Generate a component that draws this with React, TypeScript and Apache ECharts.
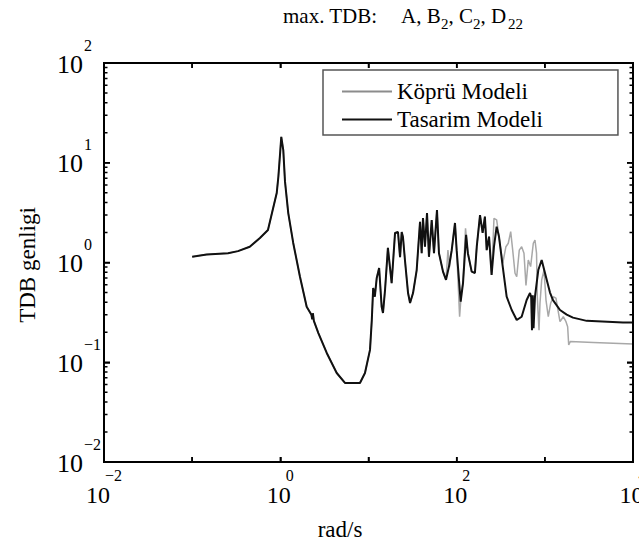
import React, { useEffect, useRef } from 'react';
import * as echarts from 'echarts';

// ---- data (rad/s, amplitude) ----
const sharedFreq = [0.1, 0.146, 0.255, 0.331, 0.45, 0.587, 0.724, 0.91, 0.95, 1.0, 1.025, 1.08, 1.13, 1.23, 1.4, 1.67, 1.99, 2.25, 2.3, 2.34, 2.4, 2.7, 3.36, 4.36, 5.41, 8.0, 9.12, 10.4, 10.9, 11.3, 11.8, 12.4, 13.2, 14.1, 14.6, 15.4, 16.6, 18.3, 20.0, 21.6, 22.8, 23.8, 24.6, 25.9, 28.1, 29.6, 32.0, 35.2, 38.4, 40.1, 41.5, 43.7, 46.1, 48.5, 52.1, 55.3, 59.8, 63.0, 70.0];
const sharedAmp = [1.14, 1.2, 1.24, 1.3, 1.44, 1.76, 2.12, 4.97, 7.24, 13.4, 18.2, 13.4, 6.46, 3.13, 1.57, 0.72, 0.36, 0.3, 0.27, 0.31, 0.26, 0.196, 0.124, 0.078, 0.062, 0.062, 0.078, 0.133, 0.265, 0.555, 0.454, 0.7, 0.88, 0.36, 0.312, 0.53, 1.4, 0.62, 1.98, 2.02, 1.13, 2.02, 1.8, 1.06, 0.494, 0.393, 0.494, 0.84, 2.56, 1.24, 2.79, 1.44, 3.13, 1.14, 2.67, 1.24, 3.36, 1.24, 0.81];

const tasarimFreq = [75.7, 81.8, 87.9, 95.7, 100, 111, 118, 128, 134, 148, 161, 169, 184, 197, 209, 219, 233, 249, 265, 284, 302, 333, 369, 421, 480, 546, 622, 679, 700, 715, 730, 745, 773, 843, 921, 1004, 1050, 1144, 1237, 1486, 1770, 2086, 2983, 7700, 10000];
const tasarimAmp = [0.67, 0.91, 1.33, 2.49, 1.33, 0.405, 0.62, 1.89, 1.24, 0.81, 0.785, 1.44, 2.99, 1.98, 2.88, 1.33, 1.82, 0.75, 1.44, 2.29, 1.82, 0.91, 0.454, 0.334, 0.265, 0.286, 0.421, 0.494, 0.45, 0.21, 0.47, 0.22, 0.454, 0.84, 1.06, 0.785, 0.67, 0.5, 0.42, 0.334, 0.3, 0.28, 0.26, 0.25, 0.25];

const kopruFreq = [75.7, 79.6, 83, 87.9, 95.7, 100, 108, 113, 118, 126, 134, 148, 161, 169, 184, 197, 209, 219, 233, 249, 265, 284, 302, 333, 362, 385, 410, 432, 459, 480, 513, 546, 580, 611, 649, 690, 740, 773, 805, 821, 859, 881, 921, 978, 1031, 1094, 1164, 1247, 1337, 1410, 1486, 1620, 1738, 1815, 1865, 1943, 3548, 10000];
const kopruAmp = [0.67, 1.33, 0.9, 1.33, 2.49, 1.33, 0.286, 0.5, 0.62, 2.2, 1.24, 0.81, 0.785, 1.44, 2.99, 1.98, 2.88, 1.33, 1.82, 0.75, 2.77, 2.67, 1.82, 0.98, 1.44, 1.56, 2.04, 1.33, 0.78, 0.72, 1.33, 1.44, 1.24, 0.59, 1.06, 0.91, 1.56, 1.68, 1.24, 0.454, 0.21, 0.39, 0.67, 0.84, 0.42, 0.286, 0.39, 0.454, 0.44, 0.334, 0.255, 0.286, 0.255, 0.227, 0.149, 0.161, 0.158, 0.152];

const seriesNames = ['Köprü Modeli', 'Tasarim Modeli'];
const xLabelTicks = [0.01, 1, 100, 10000];
const xTickValues = [0.1, 1, 10, 100, 1000];
const yLabelTicks = [0.01, 0.1, 1, 10, 100];
const yMajorInner = [0.1, 1, 10];
const yDecades = [0.01, 0.1, 1, 10];
const yMinorMultipliers = [2, 3, 4, 5, 6, 7, 8, 9];
const xTitle = 'rad/s';
const yTitle = 'TDB genligi';
// title pieces: [text, isSubscript]
const titleParts: [string, boolean][] = [['max. TDB:', false], ['A, B', false], ['2', true], [', C', false], ['2', true], [', D', false], ['22', true]];

const X_MIN = 0.01;
const X_MAX = 10000;
const Y_MIN = 0.01;
const Y_MAX = 100;

const FF = 'Liberation Serif';

const toPairs = (xs: number[], ys: number[]) => xs.map((x, i) => [x, ys[i]]);

const expLabel = (v: number) => {
  const e = Math.round(Math.log10(v));
  const s = e < 0 ? '\u2212' + Math.abs(e) : String(e);
  return `{b|10}{e|${s}}`;
};

export default function App() {
  const ref = useRef<HTMLDivElement>(null);
  useEffect(() => {
    if (!ref.current) return;
    const chart = echarts.init(ref.current, undefined, { renderer: 'svg' });

    // grid geometry (pixels) used to turn tick lengths into log-axis factors
    const gridLeft = 104, gridRight = 6, gridTop = 63, gridBottom = 80;
    const plotW = 639 - gridLeft - gridRight;
    const plotH = 542 - gridTop - gridBottom;
    const xDecPx = plotW / Math.log10(X_MAX / X_MIN);
    const yDecPx = plotH / Math.log10(Y_MAX / Y_MIN);
    const fx = (px: number) => Math.pow(10, px / xDecPx);
    const fy = (px: number) => Math.pow(10, px / yDecPx);

    const yMinor: number[] = [];
    yDecades.forEach((d) => yMinorMultipliers.forEach((m) => yMinor.push(+(d * m).toPrecision(3))));

    const seg = (a: number[], b: number[], w: number) => ({
      type: 'line',
      xAxisIndex: 0,
      yAxisIndex: 0,
      symbol: 'none',
      showSymbol: false,
      silent: true,
      z: 5,
      data: [a, b],
      lineStyle: { color: '#000', width: w },
      itemStyle: { color: '#000' },
      emphasis: { disabled: true },
      tooltip: { show: false },
    });

    const tickSeries: any[] = [];
    // frame
    tickSeries.push({
      ...seg([X_MIN, Y_MIN], [X_MAX, Y_MIN], 2),
      data: [[X_MIN, Y_MIN], [X_MAX, Y_MIN], [X_MAX, Y_MAX], [X_MIN, Y_MAX], [X_MIN, Y_MIN]],
    });
    // x decade ticks, bottom and top
    xTickValues.forEach((v) => {
      tickSeries.push(seg([v, Y_MIN], [v, Y_MIN * fy(5)], 1.5));
      tickSeries.push(seg([v, Y_MAX], [v, Y_MAX / fy(5)], 1.5));
    });
    // y major ticks, left and right
    yMajorInner.forEach((v) => {
      tickSeries.push(seg([X_MIN, v], [X_MIN * fx(6), v], 1.5));
      tickSeries.push(seg([X_MAX, v], [X_MAX / fx(6), v], 1.5));
    });
    // y minor ticks, left and right
    yMinor.forEach((v) => {
      tickSeries.push(seg([X_MIN, v], [X_MIN * fx(3.5), v], 1.5));
      tickSeries.push(seg([X_MAX, v], [X_MAX / fx(3.5), v], 1.5));
    });

    const xRich = {
      b: { fontFamily: FF, fontSize: 24, color: '#000', lineHeight: 40, verticalAlign: 'bottom', align: 'left', width: 19 },
      e: { fontFamily: FF, fontSize: 16, color: '#000', lineHeight: 6, verticalAlign: 'top', align: 'left' },
    };
    const yRich = {
      b: { fontFamily: FF, fontSize: 26, color: '#000', lineHeight: 40, verticalAlign: 'bottom', align: 'left', width: 27 },
      e: { fontFamily: FF, fontSize: 16, color: '#000', lineHeight: 6, verticalAlign: 'top', align: 'left', width: 14 },
    };

    const xAx = (position: string, labels: boolean) => ({
      type: 'log',
      logBase: 10,
      min: X_MIN,
      max: X_MAX,
      position,
      splitLine: { show: false },
      axisLine: { show: true, onZero: false, lineStyle: { color: '#000', width: 2 } },
      axisTick: { show: true, inside: true, length: 5, lineStyle: { color: '#000', width: 1.5 } },
      axisLabel: labels
        ? { show: true, customValues: xLabelTicks, formatter: expLabel, rich: xRich, margin: 5, showMinLabel: true, showMaxLabel: true }
        : { show: false },
    });
    const yAx = (position: string, labels: boolean) => ({
      type: 'log',
      logBase: 10,
      min: Y_MIN,
      max: Y_MAX,
      position,
      splitLine: { show: false },
      axisLine: { show: true, onZero: false, lineStyle: { color: '#000', width: 2 } },
      axisTick: { show: true, inside: true, length: 6, lineStyle: { color: '#000', width: 1.5 } },
      axisLabel: labels
        ? { show: true, customValues: yLabelTicks, formatter: expLabel, rich: yRich, margin: 6, padding: [0, 0, 12, 0], showMinLabel: true, showMaxLabel: true }
        : { show: false },
    });

    const titleX = [283, 401, 441, 448.5, 473, 480.5, 508];
    const titleGraphics = titleParts.map(([t, sub], i) => ({
      type: 'text',
      x: titleX[i],
      y: sub ? 24 : 16,
      style: { text: t, fontFamily: FF, fontSize: sub ? 15 : 21, fill: '#000', textAlign: 'left', textVerticalAlign: 'middle' },
    }));

    chart.setOption({
      animation: false,
      grid: { left: gridLeft, right: gridRight, top: gridTop, bottom: gridBottom, outerBoundsMode: 'none', show: true, borderColor: '#000', borderWidth: 2 },
      xAxis: [xAx('bottom', true), xAx('top', false)],
      yAxis: [yAx('left', true), yAx('right', false)],
      legend: {
        orient: 'vertical',
        left: 323,
        top: 70,
        data: [
          { name: seriesNames[0], icon: 'rect', itemStyle: { color: '#8c8c8c' } },
          { name: seriesNames[1], icon: 'rect' },
        ],
        itemWidth: 50,
        itemHeight: 2,
        itemGap: 5,
        padding: [10, 75, 4, 19],
        borderColor: '#555',
        borderWidth: 1.5,
        backgroundColor: '#fff',
        textStyle: { fontFamily: FF, fontSize: 23, color: '#000' },
      },
      graphic: [
        ...titleGraphics,
        { type: 'text', x: 340, y: 529, style: { text: xTitle, fontFamily: FF, fontSize: 23, fill: '#000', textAlign: 'center', textVerticalAlign: 'middle' } },
        { type: 'text', x: 27, y: 265, rotation: Math.PI / 2, style: { text: yTitle, fontFamily: FF, fontSize: 23, fill: '#000', textAlign: 'center', textVerticalAlign: 'middle' } },
      ],
      series: [
        {
          name: seriesNames[0],
          type: 'line',
          xAxisIndex: 0,
          yAxisIndex: 0,
          symbol: 'none',
          showSymbol: false,
          data: toPairs(sharedFreq, sharedAmp).concat(toPairs(kopruFreq, kopruAmp)),
          lineStyle: { color: '#a8a8a8', width: 1.5 },
          itemStyle: { color: '#a8a8a8' },
        },
        {
          name: seriesNames[1],
          type: 'line',
          xAxisIndex: 0,
          yAxisIndex: 0,
          symbol: 'none',
          showSymbol: false,
          data: toPairs(sharedFreq, sharedAmp).concat(toPairs(tasarimFreq, tasarimAmp)),
          lineStyle: { color: '#111', width: 2 },
          itemStyle: { color: '#111' },
        },
        ...tickSeries,
      ],
    });
    return () => chart.dispose();
  }, []);
  return <div ref={ref} style={{ position: 'fixed', left: 0, top: 0, width: 639, height: 542, background: '#fff' }} />;
}
